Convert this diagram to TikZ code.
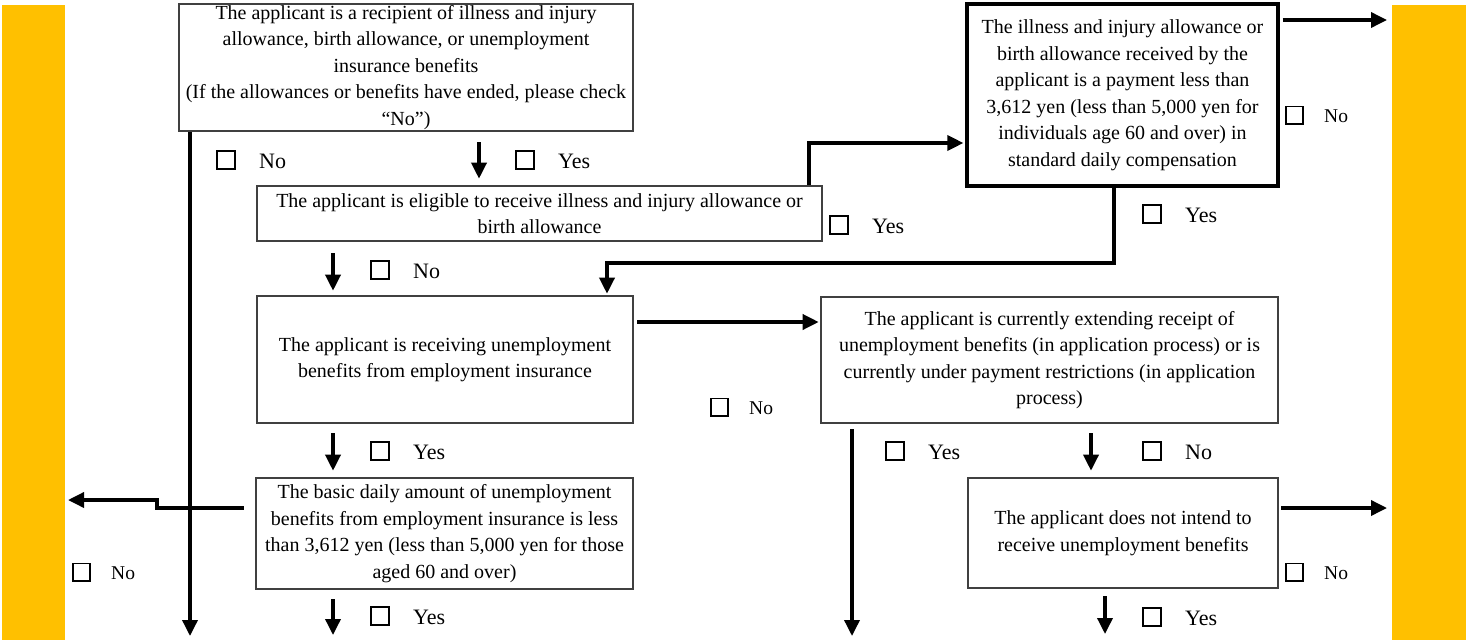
\documentclass[tikz,border=0pt]{standalone}
\usepackage{fontspec}
\setmainfont{Liberation Serif}
\usetikzlibrary{arrows.meta}
\definecolor{barY}{HTML}{FFC000}
\definecolor{bgray}{HTML}{404040}
\newcommand{\cbL}{{\setlength\fboxrule{2pt}\setlength\fboxsep{0pt}\fbox{\rule{0pt}{16pt}\hspace{16pt}}}}
\newcommand{\cbS}{{\setlength\fboxrule{1.8pt}\setlength\fboxsep{0pt}\fbox{\rule{0pt}{15.4pt}\hspace{15.4pt}}}}
\newcommand{\txtsz}{\fontsize{20pt}{26.5pt}\selectfont}
\newcommand{\labLsz}{\fontsize{22pt}{26pt}\selectfont}
\newcommand{\labSsz}{\fontsize{19.5pt}{24pt}\selectfont}
\tikzset{
  box/.style={draw=bgray, line width=2.6pt, align=center, inner sep=0pt, font=\txtsz},
  arr/.style={line width=3.5pt, -{Triangle[length=16pt,width=15pt]}},
  labL/.style={anchor=west, inner sep=0pt, font=\labLsz},
  labS/.style={anchor=west, inner sep=0pt, font=\labSsz},
}
\begin{document}
\begin{tikzpicture}[x=1pt,y=-1pt]
\useasboundingbox (0,0) rectangle (1466,640);
\fill[barY] (2,5) rectangle (65,640);
\fill[barY] (1392,5) rectangle (1466,640);

% boxes
\node[box, minimum width=454pt, minimum height=127pt] (B1) at (406,67.5)
  {The applicant is a recipient of illness and injury\\allowance, birth allowance, or unemployment\\insurance benefits\\(If the allowances or benefits have ended, please check\\“No”)};
\node[box, minimum width=565pt, minimum height=55pt] (B2) at (539.5,213.5)
  {The applicant is eligible to receive illness and injury allowance or\\birth allowance};
\node[box, draw=black, line width=3.2pt, minimum width=311pt, minimum height=182pt] (B3) at (1122.5,95)
  {The illness and injury allowance or\\birth allowance received by the\\applicant is a payment less than\\3,612 yen (less than 5,000 yen for\\individuals age 60 and over) in\\standard daily compensation};
\node[box, minimum width=376pt, minimum height=127pt] (B4) at (445,359.5)
  {The applicant is receiving unemployment\\benefits from employment insurance};
\node[box, minimum width=457pt, minimum height=126pt] (B5) at (1049.5,360)
  {The applicant is currently extending receipt of\\unemployment benefits (in application process) or is\\currently under payment restrictions (in application\\process)};
\node[box, minimum width=310pt, minimum height=110pt] (B6) at (1123,533)
  {The applicant does not intend to\\receive unemployment benefits};
\node[box, minimum width=377pt, minimum height=111pt] (B7) at (444.5,533.5)
  {The basic daily amount of unemployment\\benefits from employment insurance is less\\than 3,612 yen (less than 5,000 yen for those\\aged 60 and over)};

% helper coordinates
\coordinate (e1) at (190,636);
\coordinate (x479) at (479,0);
\coordinate (k1) at (809,143);
\coordinate (r1) at (1387,20);
\coordinate (k2) at (1114,263);
\coordinate (k3) at (607,263);
\coordinate (x333) at (333,0);
\coordinate (y322) at (0,322);
\coordinate (e2) at (852,636);
\coordinate (x1091) at (1091,0);
\coordinate (r2) at (1387,508);
\coordinate (e3) at (1105,634);
\coordinate (e4) at (333,635);
\coordinate (k4) at (157,508);
\coordinate (k5) at (157,500);
\coordinate (l1) at (68,500);

% connectors
\draw[arr] (B1.south -| e1) -- (e1);
\draw[arr, shorten <=10pt, shorten >=6pt] (B1.south -| x479) -- (B2.north -| x479);
\draw[arr, shorten >=2pt] (B2.north -| k1) -- (k1) -- (B3.west |- k1);
\draw[arr, shorten <=3pt] (B3.east |- r1) -- (r1);
\draw[arr, shorten >=1pt] (B3.south -| k2) -- (k2) -- (k3) -- (B4.north -| k3);
\draw[arr, shorten <=11pt, shorten >=4pt] (B2.south -| x333) -- (B4.north -| x333);
\draw[arr, shorten <=3pt, shorten >=1pt] (B4.east |- y322) -- (B5.west |- y322);
\draw[arr, shorten <=9pt, shorten >=6pt] (B4.south -| x333) -- (B7.north -| x333);
\draw[arr, shorten <=5pt] (B5.south -| e2) -- (e2);
\draw[arr, shorten <=9pt, shorten >=6pt] (B5.south -| x1091) -- (B6.north -| x1091);
\draw[arr, shorten <=2pt] (B6.east |- r2) -- (r2);
\draw[arr, shorten <=7pt] (B6.south -| e3) -- (e3);
\draw[arr, shorten <=9pt] (B7.south -| e4) -- (e4);
\draw[arr, shorten <=11pt] (B7.west |- k4) -- (k4) -- (k5) -- (l1);

% labels
\node[labL] (n1) at (216,160) {\cbL\hspace{23pt}No};
\node[labL] (n2) at (515,160) {\cbL\hspace{23pt}Yes};
\node[labL] (n3) at (829,225) {\cbL\hspace{23pt}Yes};
\node[labL] (n4) at (1142,214) {\cbL\hspace{23pt}Yes};
\node[labL] (n5) at (370,270) {\cbL\hspace{23pt}No};
\node[labL] (n6) at (370,451) {\cbL\hspace{23pt}Yes};
\node[labL] (n7) at (885,451) {\cbL\hspace{23pt}Yes};
\node[labL] (n8) at (1142,451) {\cbL\hspace{23pt}No};
\node[labL] (n9) at (370,616) {\cbL\hspace{23pt}Yes};
\node[labL] (n10) at (1142,617) {\cbL\hspace{23pt}Yes};
\node[labS] (s1) at (1285,115) {\cbS\hspace{20pt}No};
\node[labS] (s2) at (710,407) {\cbS\hspace{20pt}No};
\node[labS] (s3) at (72,572) {\cbS\hspace{20pt}No};
\node[labS] (s4) at (1285,572) {\cbS\hspace{20pt}No};
\end{tikzpicture}
\end{document}
